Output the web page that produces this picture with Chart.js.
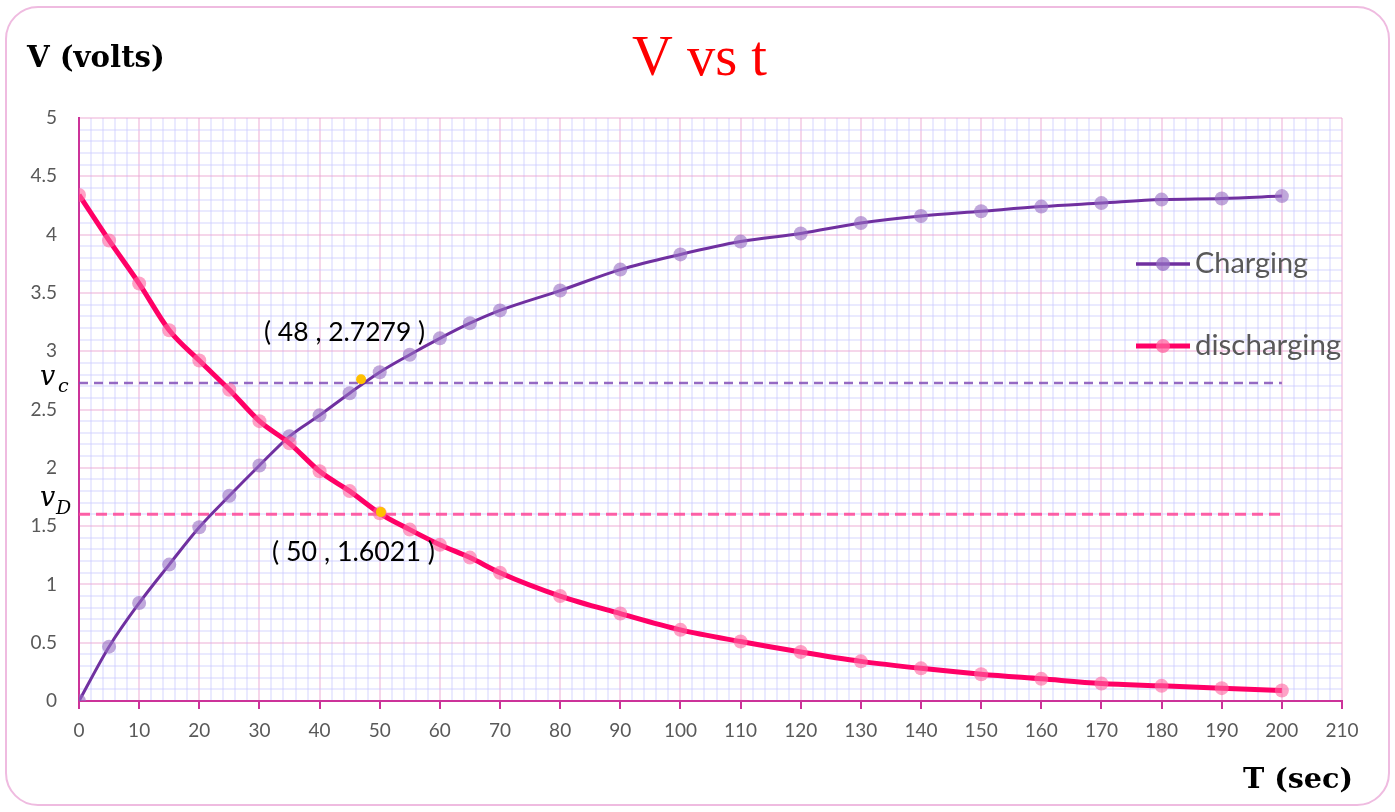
<!DOCTYPE html>
<html>
<head>
<meta charset="utf-8">
<script src="https://cdn.jsdelivr.net/npm/chart.js@4.4.1/dist/chart.umd.min.js"></script>
<style>
  html,body{margin:0;padding:0;background:#fff;}
  canvas{display:block;}
</style>
</head>
<body>
<canvas id="c" width="1395" height="812"></canvas>
<script>
// ---- data ----
const times = [0,5,10,15,20,25,30,35,40,45,50,55,60,65,70,80,90,100,110,120,130,140,150,160,170,180,190,200];
const charging = [0,0.466,0.84,1.17,1.49,1.76,2.02,2.27,2.45,2.64,2.82,2.97,3.11,3.24,3.35,3.52,3.70,3.83,3.94,4.01,4.10,4.16,4.20,4.24,4.27,4.30,4.31,4.33];
const discharging = [4.34,3.95,3.58,3.18,2.92,2.67,2.40,2.21,1.97,1.80,1.61,1.47,1.34,1.23,1.10,0.90,0.75,0.61,0.51,0.42,0.34,0.28,0.23,0.19,0.15,0.13,0.11,0.09];
const vcLevel = 2.7279;
const vdLevel = 1.6021;
const refLineX = [0, 200];
const markedPoints = [[46.9, 2.76],[50.2, 1.62]];
const xTicks = [0,10,20,30,40,50,60,70,80,90,100,110,120,130,140,150,160,170,180,190,200,210];
const yTicks = [0,0.5,1,1.5,2,2.5,3,3.5,4,4.5,5];
const seriesNames = ['Charging','discharging'];

const toXY = (xs, ys) => xs.map((x,i)=>({x:x, y:ys[i]}));

const PURPLE = '#7030a0';
const PINK = '#ff0066';
const MAJOR = 'rgba(236,165,208,0.45)';
const MINOR = 'rgba(200,200,255,0.38)';
const AXIS = '#cc3399';
const TICKC = '#595959';

const decor = {
  id: 'decor',
  beforeDraw(chart){
    const ctx = chart.ctx;
    ctx.save();
    ctx.fillStyle = '#fff';
    ctx.fillRect(0,0,chart.width,chart.height);
    ctx.strokeStyle = '#efbbe0';
    ctx.lineWidth = 2;
    ctx.beginPath();
    ctx.roundRect(6,7,1383,798,32);
    ctx.stroke();
    ctx.restore();
  },
  afterDraw(chart){
    const ctx = chart.ctx;
    const fit = (txt, x, y, w, font, size, color, align) => {
      ctx.font = font.replace('SIZE', size+'px');
      const m = ctx.measureText(txt).width;
      const s = size * w / m;
      ctx.font = font.replace('SIZE', s.toFixed(1)+'px');
      ctx.fillStyle = color;
      ctx.textAlign = align || 'left';
      ctx.textBaseline = 'alphabetic';
      ctx.fillText(txt, x, y);
    };
    ctx.save();
    // title
    fit('V vs t', 632, 75, 135, 'SIZE "Liberation Serif", serif', 50, '#ff0000');
    // axis titles
    fit('V (volts)', 27, 67, 138, 'bold SIZE "DejaVu Serif", serif', 26, '#000');
    fit('T (sec)', 1243, 788, 110, 'bold SIZE "DejaVu Serif", serif', 26, '#000');
    // annotation labels
    fit('( 48 , 2.7279 )', 264, 341, 161, 'SIZE Lato, sans-serif', 20, '#000');
    fit('( 50 , 1.6021 )', 272, 561, 163, 'SIZE Lato, sans-serif', 20, '#000');
    // v_c, v_D
    ctx.fillStyle = '#000';
    ctx.textAlign = 'left';
    ctx.font = 'italic 27px "DejaVu Serif", serif';
    ctx.fillText('v', 40, 385);
    ctx.font = 'italic 19px "DejaVu Serif", serif';
    ctx.fillText('c', 58, 392);
    ctx.font = 'italic 27px "DejaVu Serif", serif';
    ctx.fillText('v', 40, 506);
    ctx.font = 'italic 19px "DejaVu Serif", serif';
    ctx.fillText('D', 56, 514);
    // legend
    const leg = [[seriesNames[0], PURPLE, 'rgba(150,110,195,0.75)', 264, 3.5, 113],
                 [seriesNames[1], PINK, 'rgba(255,100,160,0.75)', 346, 5, 146]];
    leg.forEach(([name, lc, pc, y, lw, w]) => {
      ctx.strokeStyle = lc; ctx.lineWidth = lw;
      ctx.beginPath(); ctx.moveTo(1136, y); ctx.lineTo(1190, y); ctx.stroke();
      ctx.fillStyle = pc;
      ctx.beginPath(); ctx.arc(1163, y, 7, 0, Math.PI*2); ctx.fill();
      fit(name, 1195, y + 9, w, 'SIZE Lato, sans-serif', 25, '#595959');
    });
    ctx.restore();
  }
};

const isMajorX = v => Math.round(v) % 10 === 0;
const isMajorY = v => Math.round(v*10) % 5 === 0;

new Chart(document.getElementById('c'), {
  type: 'line',
  data: {
    datasets: [
      {
        label: 'Vc', data: toXY(refLineX, [vcLevel, vcLevel]),
        borderColor: 'rgba(130,80,185,0.85)', borderWidth: 2.5, borderDash: [9,6],
        pointRadius: 0, order: 5
      },
      {
        label: 'Vd', data: toXY(refLineX, [vdLevel, vdLevel]),
        borderColor: 'rgba(255,70,150,0.85)', borderWidth: 3, borderDash: [11,6],
        pointRadius: 0, order: 5
      },
      {
        label: seriesNames[0], data: toXY(times, charging),
        borderColor: PURPLE, borderWidth: 3, cubicInterpolationMode: 'monotone',
        pointRadius: 7, pointBorderWidth: 0,
        pointBackgroundColor: 'rgba(150,110,195,0.6)', order: 3
      },
      {
        label: seriesNames[1], data: toXY(times, discharging),
        borderColor: PINK, borderWidth: 5, cubicInterpolationMode: 'monotone',
        pointRadius: 7, pointBorderWidth: 0,
        pointBackgroundColor: 'rgba(255,100,160,0.6)', order: 2
      },
      {
        label: 'marks', data: markedPoints.map(p=>({x:p[0], y:p[1]})),
        showLine: false, pointRadius: 5, pointBorderWidth: 0,
        pointBackgroundColor: '#ffc000', order: 1
      }
    ]
  },
  options: {
    responsive: false,
    animation: false,
    devicePixelRatio: 1,
    layout: { padding: { top: 118, left: 0, right: 53, bottom: 0 } },
    plugins: { legend: { display: false }, tooltip: { enabled: false }, title: { display: false } },
    scales: {
      x: {
        type: 'linear', min: 0, max: 210,
        afterFit: s => { s.height = 111; },
        ticks: {
          stepSize: 2, autoSkip: false, maxRotation: 0, padding: 10,
          color: TICKC, font: { family: 'Lato', size: 19 },
          callback: v => isMajorX(v) && xTicks.includes(Math.round(v)) ? String(Math.round(v)) : ''
        },
        grid: {
          color: c => isMajorX(c.tick.value) ? MAJOR : MINOR,
          lineWidth: 2,
          tickLength: 8,
          tickColor: c => isMajorX(c.tick.value) ? AXIS : 'rgba(0,0,0,0)',
          tickWidth: 2
        },
        border: { color: AXIS, width: 2 }
      },
      y: {
        type: 'linear', min: 0, max: 5,
        afterFit: s => { s.width = 79; },
        ticks: {
          stepSize: 0.1, autoSkip: false, padding: 22,
          color: TICKC, font: { family: 'Lato', size: 19 },
          callback: v => {
            if (!isMajorY(v)) return '';
            const r = Math.round(v*2)/2;
            return yTicks.includes(r) ? String(r) : '';
          }
        },
        grid: {
          color: c => isMajorY(c.tick.value) ? MAJOR : MINOR,
          lineWidth: 2,
          drawTicks: false
        },
        border: { color: AXIS, width: 2 }
      }
    }
  },
  plugins: [decor]
});
</script>
</body>
</html>
